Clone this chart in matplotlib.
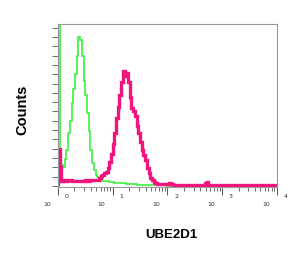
import numpy as np
import matplotlib.pyplot as plt
from matplotlib.ticker import LogLocator, MultipleLocator, NullFormatter

# histogram bins: 1/32 decade from 10^0 to 10^4
n_bins = 128
decades = [0, 1, 2, 3, 4]

# control (green) counts, normalised to frame height
control = ([1.0, 0.2, 0.13, 0.12, 0.17, 0.22, 0.33, 0.40, 0.51, 0.60,
            0.69, 0.80, 0.92, 0.90, 0.80, 0.65, 0.56, 0.45, 0.34, 0.22,
            0.14, 0.10, 0.07, 0.055, 0.04, 0.035, 0.03, 0.03, 0.03, 0.03,
            0.025, 0.025, 0.025, 0.02, 0.02, 0.02, 0.02, 0.02, 0.02, 0.02]
           + [0.015] * 6 + [0.01] * 10 + [0.005] * 7 + [0] * 65)

# UBE2D1 stained (pink) counts
ube2d1 = ([0.23, 0.12, 0.03, 0.035, 0.03, 0.03, 0.04, 0.035, 0.03, 0.03,
           0.03, 0.03, 0.03, 0.03, 0.03, 0.03, 0.035, 0.03, 0.03, 0.035,
           0.035, 0.035, 0.035, 0.04, 0.05, 0.06, 0.07, 0.08, 0.09, 0.11,
           0.15, 0.20, 0.26, 0.33, 0.42, 0.49, 0.56, 0.64, 0.71, 0.68,
           0.70, 0.64, 0.55, 0.48, 0.46, 0.43, 0.37, 0.33, 0.27, 0.22,
           0.19, 0.16, 0.11, 0.08, 0.05, 0.035, 0.025, 0.02, 0.015, 0.012,
           0.012, 0.012, 0.012, 0.012, 0.015, 0.02, 0.015, 0.01, 0.01, 0.008]
          + [0.008] * 16 + [0.02, 0.025] + [0.008] * 40)

edges = 10 ** (np.arange(n_bins + 1) / 32)

fig = plt.figure(figsize=(3.0, 2.54), dpi=100)
ax = fig.add_axes([0.193, 0.264, 0.73, 0.642])

ax.stairs(control, edges, color='#3cf03c', lw=1.2)
ax.stairs(ube2d1, edges, color='#f0147d', lw=2.4)

ax.set_xscale('log')
ax.set_xlim(1, 1e4)
ax.set_ylim(-0.005, 1.0)

for s in ax.spines.values():
    s.set_color('#999999')
    s.set_linewidth(0.8)

ax.xaxis.set_major_locator(LogLocator(base=10, numticks=10))
ax.xaxis.set_minor_locator(LogLocator(base=10, subs=np.arange(2, 10), numticks=10))
ax.xaxis.set_major_formatter(NullFormatter())
ax.xaxis.set_minor_formatter(NullFormatter())
ax.yaxis.set_major_locator(MultipleLocator(0.0575))
ax.yaxis.set_major_formatter(NullFormatter())
ax.tick_params(axis='x', which='major', length=6, width=0.7, color='#555555')
ax.tick_params(axis='x', which='minor', length=3, width=0.6, color='#555555')
ax.tick_params(axis='y', which='major', length=4, width=0.6, color='#555555')

# flow-cytometry style decade labels: "10" low-left, exponent high-right
trans = ax.get_xaxis_transform()
for d in decades:
    ax.text(10 ** (d - 0.2), -0.11, '10', transform=trans, fontsize=4.5,
            ha='center', va='center', color='#333333', clip_on=False)
    ax.text(10 ** (d + 0.16), -0.061, str(d), transform=trans, fontsize=4.5,
            ha='center', va='center', color='#333333', clip_on=False)

fig.text(22 / 300, 1 - 110 / 254, 'Counts', rotation=90, fontsize=10.5,
         fontweight='bold', family='Liberation Sans', ha='center', va='center')
fig.text(171 / 300, 1 - 235 / 254, 'UBE2D1', fontsize=9.5,
         fontweight='bold', family='Liberation Sans', ha='center', va='center')

fig.savefig('out.png', dpi=100)
